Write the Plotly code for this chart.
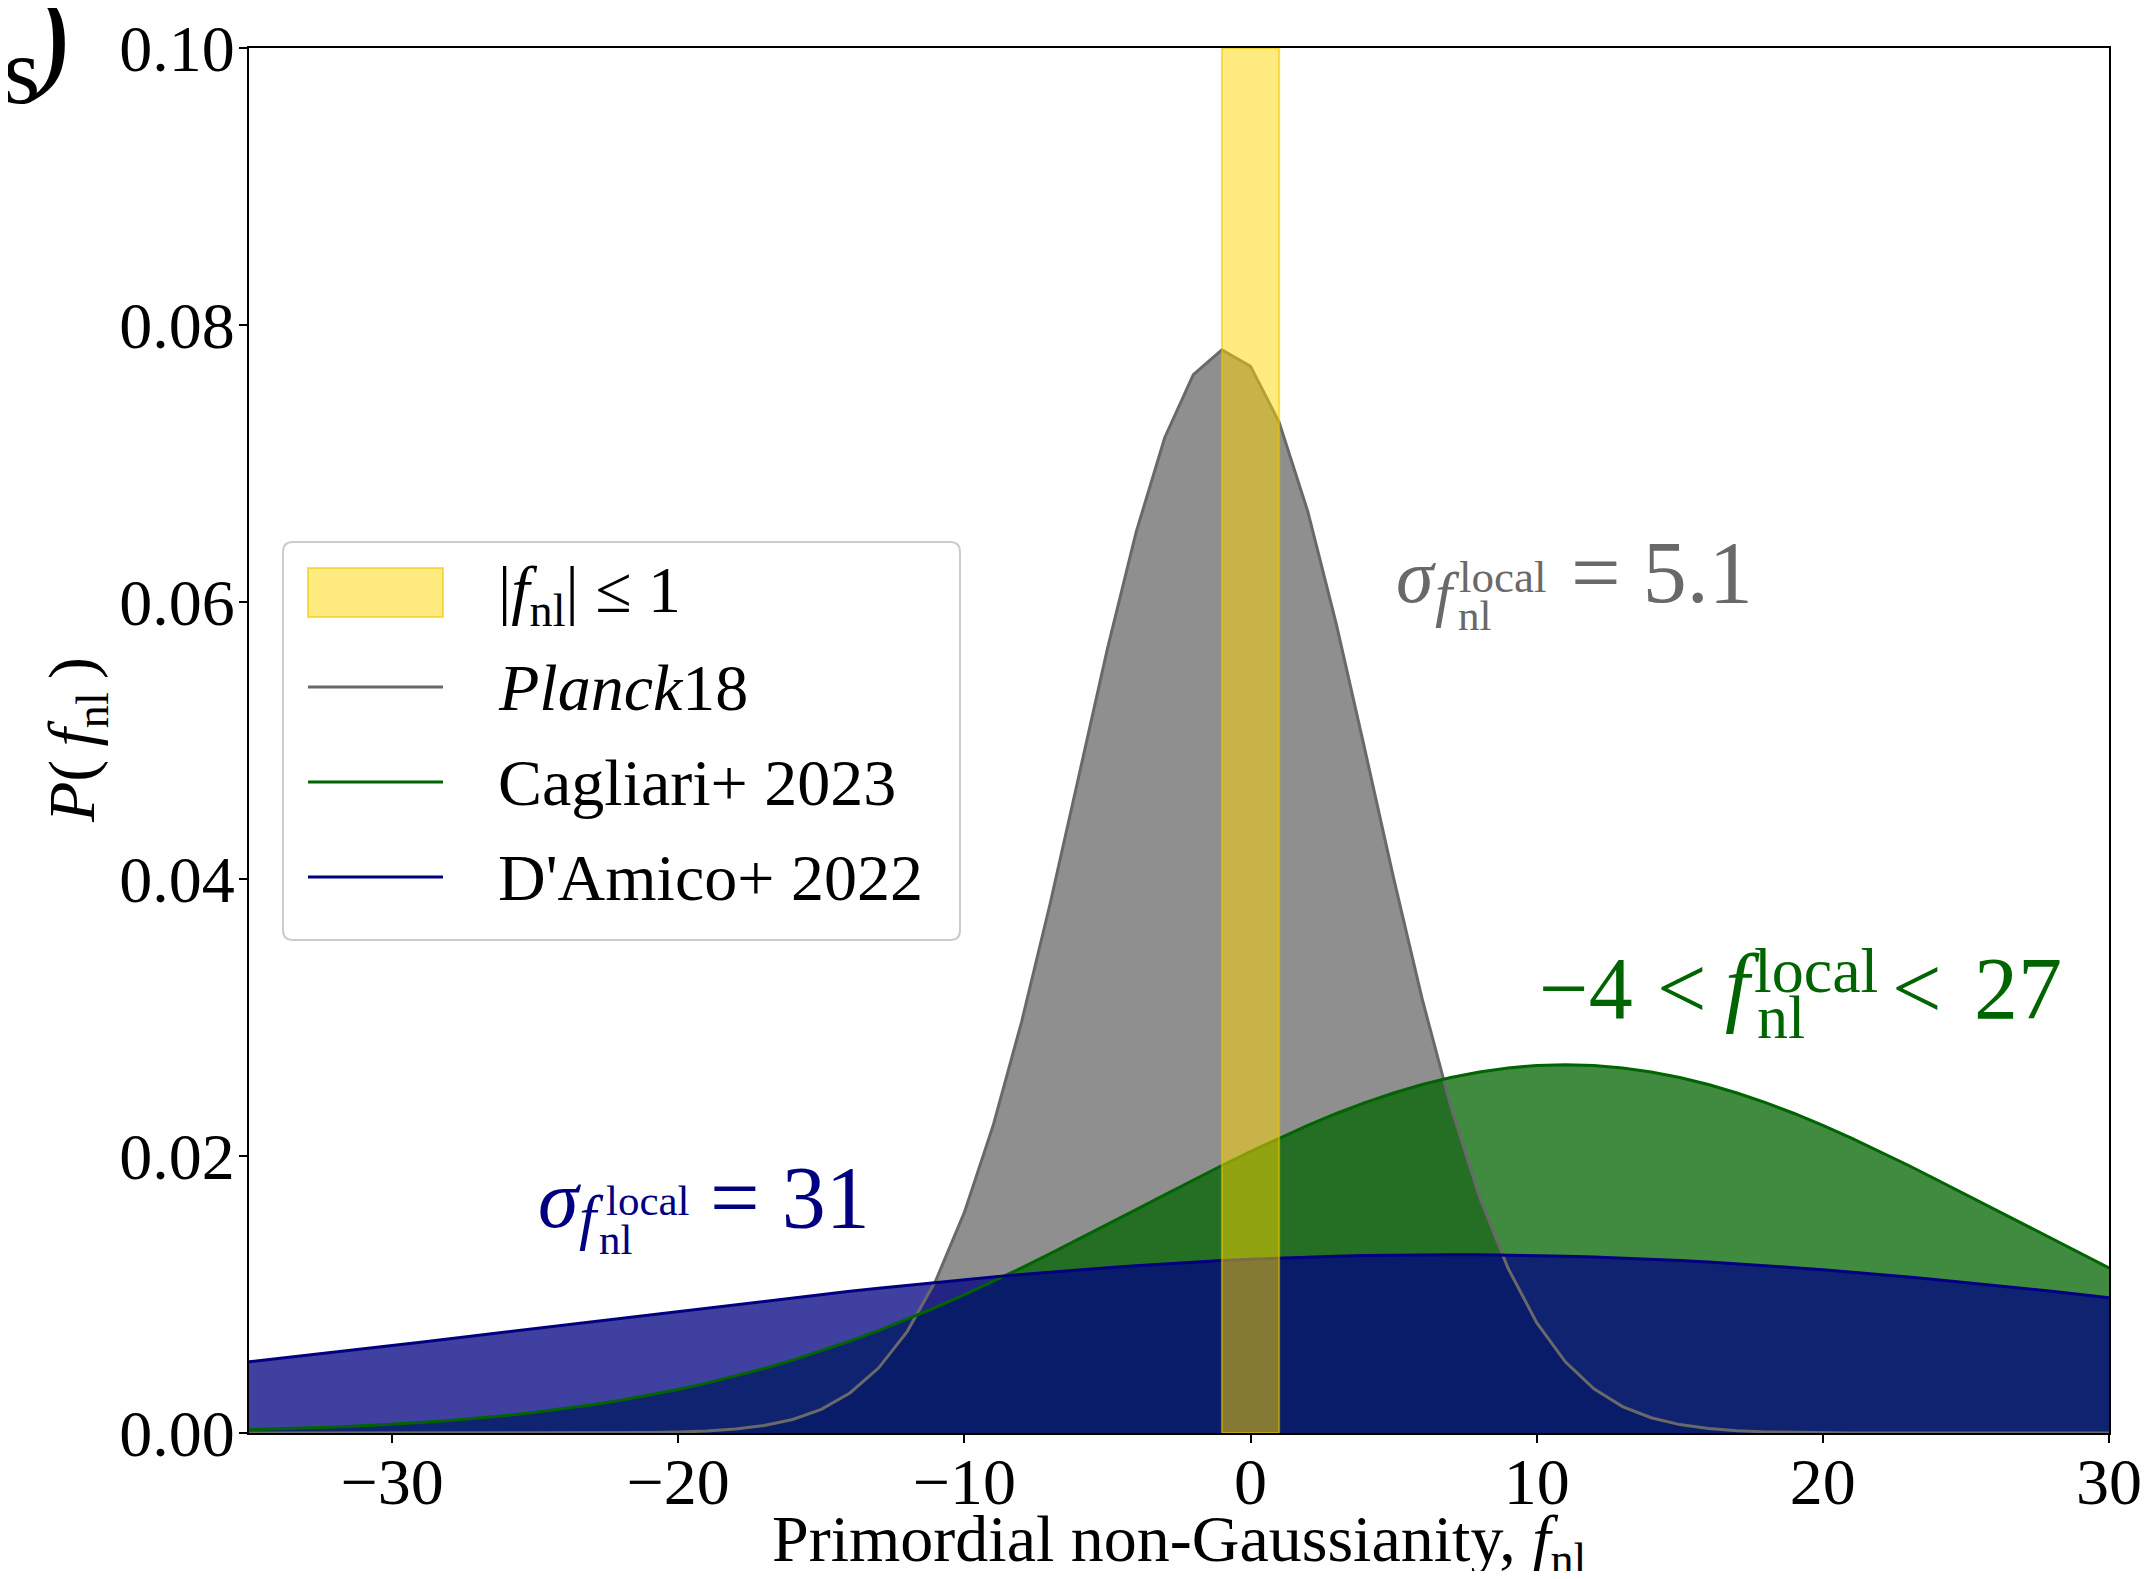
import plotly.graph_objects as go

# ---------------- data ----------------
fnl = list(range(-35, 31))

planck18 = [0.0] * 12 + [
    0.000007, 0.000015, 0.000033, 0.000070, 0.000144, 0.000283, 0.000536, 0.000977,
    0.001712, 0.002888, 0.004689, 0.007324, 0.01101, 0.01593, 0.02216, 0.02969,
    0.03825, 0.04744, 0.05663, 0.06503, 0.07186, 0.07642, 0.07820, 0.07702,
    0.07298, 0.06654, 0.05839, 0.04930, 0.04006, 0.03132, 0.02357, 0.01706,
    0.01189, 0.00797, 0.00514, 0.00319, 0.00191, 0.00110, 0.000606, 0.000323,
    0.000165, 0.000081, 0.000039, 0.000017, 0.000007,
] + [0.0] * 9

cagliari23 = [
    0.000241, 0.000296, 0.000360, 0.000437, 0.000528, 0.000635, 0.000760, 0.000906,
    0.001074, 0.001269, 0.001493, 0.001748, 0.002038, 0.002365, 0.002733, 0.003142,
    0.003599, 0.004104, 0.004658, 0.005263, 0.005922, 0.006632, 0.007395, 0.008209,
    0.009072, 0.009982, 0.010934, 0.011924, 0.012946, 0.013993, 0.015057, 0.016131,
    0.017205, 0.018269, 0.019313, 0.020325, 0.021296, 0.022215, 0.023070, 0.023852,
    0.024551, 0.025159, 0.025667, 0.026069, 0.026361, 0.026537, 0.026596, 0.026537,
    0.026361, 0.026069, 0.025667, 0.025159, 0.024551, 0.023852, 0.023070, 0.022215,
    0.021296, 0.020325, 0.019313, 0.018269, 0.017205, 0.016131, 0.015057, 0.013993,
    0.012946, 0.011924,
]

damico22 = [
    0.005140, 0.005366, 0.005598, 0.005833, 0.006072, 0.006312, 0.006557, 0.006803,
    0.007052, 0.007302, 0.007553, 0.007805, 0.008057, 0.008308, 0.008558, 0.008807,
    0.009053, 0.009297, 0.009536, 0.009773, 0.010004, 0.010231, 0.010451, 0.010666,
    0.010873, 0.011073, 0.011264, 0.011447, 0.011621, 0.011785, 0.011940, 0.012084,
    0.012217, 0.012338, 0.012447, 0.012545, 0.012630, 0.012703, 0.012762, 0.012809,
    0.012842, 0.012862, 0.012869, 0.012862, 0.012842, 0.012809, 0.012762, 0.012703,
    0.012630, 0.012545, 0.012447, 0.012338, 0.012217, 0.012084, 0.011940, 0.011785,
    0.011621, 0.011447, 0.011264, 0.011073, 0.010873, 0.010666, 0.010451, 0.010231,
    0.010004, 0.009773,
]

band_lo, band_hi = -1, 1          # |f_nl| <= 1
y_max = 0.10

x_tickvals = [-30, -20, -10, 0, 10, 20, 30]
x_ticktext = ["\u221230", "\u221220", "\u221210", "0", "10", "20", "30"]
y_tickvals = [0.00, 0.02, 0.04, 0.06, 0.08, 0.10]
y_ticktext = ["0.00", "0.02", "0.04", "0.06", "0.08", "0.10"]

labels = ["|<i>f</i><sub>nl</sub>| \u2264 1", "<i>Planck</i>18", "Cagliari+ 2023", "D'Amico+ 2022"]

# ---------------- style ----------------
FONT = "Liberation Serif, Times New Roman, serif"
W, H = 2151, 1579
OFF = 8                      # default page body margin
L, R, T, B = 249, 2109, 48, 1433   # plot area in page pixels

GREY = "#696969"
GREEN = "#006400"
NAVY = "#000080"
YFILL = "rgba(255,215,0,0.5)"
YEDGE = "rgba(235,195,0,0.55)"

fig = go.Figure()

series = [
    (planck18, GREY, "rgba(105,105,105,0.75)"),
    (cagliari23, GREEN, "rgba(0,100,0,0.75)"),
    (damico22, NAVY, "rgba(0,0,128,0.75)"),
]

# fills first
for ys, lc, fc in series:
    fig.add_trace(go.Scatter(x=fnl, y=ys, mode="lines", line=dict(width=0, color=lc),
                             fill="tozeroy", fillcolor=fc, showlegend=False, hoverinfo="skip"))
# lines on top
for (ys, lc, fc), name in zip(series, labels[1:]):
    fig.add_trace(go.Scatter(x=fnl, y=ys, mode="lines", line=dict(width=3, color=lc),
                             name=name, showlegend=False))

# yellow band above everything
fig.add_trace(go.Scatter(x=[band_lo, band_hi, band_hi, band_lo, band_lo],
                         y=[0, 0, y_max, y_max, 0], mode="lines", fill="toself",
                         fillcolor=YFILL, line=dict(color=YEDGE, width=2),
                         name=labels[0], showlegend=False))


def pxx(xp):
    return (xp - L) / (R - L)


def pxy(yp):
    return (B - yp) / (B - T)


annots = []
shapes = []


def txt(text, left, base, size, color):
    annots.append(dict(text=text, x=pxx(left), y=pxy(base - 0.3375 * size), xref="paper", yref="paper",
                       xanchor="left", yanchor="middle", showarrow=False,
                       font=dict(family=FONT, size=size, color=color), borderpad=0))


# grey: sigma_{f_nl^local} = 5.1
txt("<i>\u03c3</i>", 1395, 602, 76, GREY)
txt("<i>f</i>", 1434, 615, 62, GREY)
txt("local", 1458, 592, 45, GREY)
txt("nl", 1457, 630, 43, GREY)
txt("= 5.1", 1570, 602, 88, GREY)

# green: -4 < f_nl^local < 27
txt("\u22124", 1538, 1018, 88, GREEN)
txt("<", 1656, 1018, 88, GREEN)
txt("<i>f</i>", 1724, 1015, 88, GREEN)
txt("local", 1753, 992, 64, GREEN)
txt("nl", 1756, 1038, 62, GREEN)
txt("<", 1891, 1018, 88, GREEN)
txt("27", 1973, 1018, 88, GREEN)

# navy: sigma_{f_nl^local} = 31
txt("<i>\u03c3</i>", 537, 1227, 82, NAVY)
txt("<i>f</i>", 578, 1238, 62, NAVY)
txt("local", 605, 1215, 43, NAVY)
txt("nl", 598, 1254, 43, NAVY)
txt("= 31", 709, 1227, 88, NAVY)

# cut-off panel label at top-left
txt("s", 2, 103, 96, "black")
txt(")", 28, 74, 124, "black")

# axis titles
annots.append(dict(text="Primordial non-Gaussianity, <i>f</i><sub>nl</sub>",
                   x=pxx((L + R) / 2), y=pxy(1501), xref="paper", yref="paper",
                   xanchor="center", yanchor="top", showarrow=False, borderpad=0,
                   font=dict(family=FONT, size=66, color="black")))
annots.append(dict(text="<i>P</i>(\u2009<i>f</i><sub>nl</sub>\u2009)",
                   x=pxx(34), y=pxy((T + B) / 2), xref="paper", yref="paper",
                   xanchor="left", yanchor="middle", textangle=-90, showarrow=False, borderpad=0,
                   font=dict(family=FONT, size=66, color="black")))

# ---------------- legend (drawn by hand) ----------------
lx0, ly0, lx1, ly1, rad = 283, 542, 960, 940, 10
X0, X1, Y0, Y1 = pxx(lx0), pxx(lx1), pxy(ly0), pxy(ly1)
rx, ry = rad / (R - L), rad / (B - T)
path = (f"M{X0 + rx},{Y0} L{X1 - rx},{Y0} Q{X1},{Y0} {X1},{Y0 - ry} "
        f"L{X1},{Y1 + ry} Q{X1},{Y1} {X1 - rx},{Y1} L{X0 + rx},{Y1} "
        f"Q{X0},{Y1} {X0},{Y1 + ry} L{X0},{Y0 - ry} Q{X0},{Y0} {X0 + rx},{Y0} Z")
shapes.append(dict(type="path", path=path, xref="paper", yref="paper", layer="above",
                   line=dict(color="#cccccc", width=2), fillcolor="rgba(255,255,255,0.8)"))

sym_x0, sym_x1, text_x = 308, 443, 497
rows = [617, 710, 805, 900]  # text baselines
shapes.append(dict(type="rect", xref="paper", yref="paper", layer="above",
                   x0=pxx(sym_x0), x1=pxx(sym_x1), y0=pxy(568), y1=pxy(617),
                   fillcolor=YFILL, line=dict(color=YEDGE, width=2)))
for (ys, lc, fc), base in zip(series, rows[1:]):
    yl = base - 23
    shapes.append(dict(type="line", xref="paper", yref="paper", layer="above",
                       x0=pxx(sym_x0), x1=pxx(sym_x1), y0=pxy(yl), y1=pxy(yl),
                       line=dict(color=lc, width=3)))
for lab, base in zip(labels, rows):
    txt(lab, text_x, base, 66, "black")

fig.update_layout(
    width=W - 2 * OFF, height=H - 2 * OFF,
    margin=dict(l=L - OFF, r=(W - OFF) - R, t=T - OFF, b=(H - OFF) - B, autoexpand=False),
    paper_bgcolor="white", plot_bgcolor="white",
    font=dict(family=FONT, size=66, color="black"),
    showlegend=False,
    annotations=annots,
    shapes=shapes,
)

fig.update_xaxes(range=[-35, 30], tickvals=x_tickvals, ticktext=x_ticktext,
                 showgrid=False, zeroline=False, showline=True, linecolor="black",
                 linewidth=2, mirror=True, ticks="outside", ticklen=8, tickwidth=2,
                 tickcolor="black", tickfont=dict(size=66), automargin=False,
                 ticklabelstandoff=-18)
fig.update_yaxes(range=[0, y_max], tickvals=y_tickvals, ticktext=y_ticktext,
                 showgrid=False, zeroline=False, showline=True, linecolor="black",
                 linewidth=2, mirror=True, ticks="outside", ticklen=8, tickwidth=2,
                 tickcolor="black", tickfont=dict(size=66), automargin=False,
                 ticklabelstandoff=-9)

fig.write_html("out.html")
